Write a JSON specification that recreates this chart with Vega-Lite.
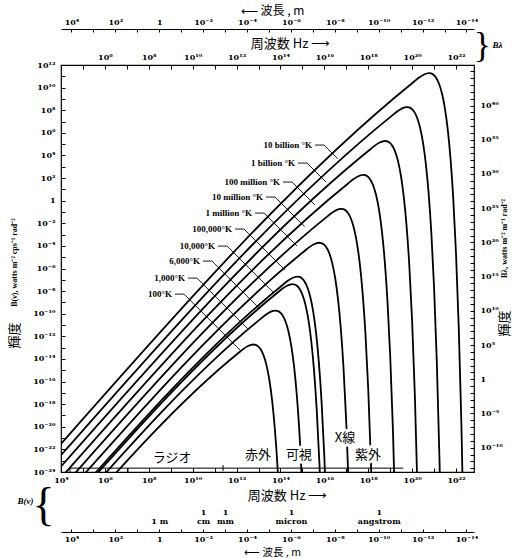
{
 "$schema": "https://vega.github.io/schema/vega-lite/v6.json",
 "width": 413, "height": 407,
 "autosize": {"type": "none"},
 "padding": {"left": 61, "top": 65, "right": 45, "bottom": 86},
 "background": "white",
 "config": {
  "view": {"stroke": "black", "strokeWidth": 1.2},
  "axis": {"grid": false, "domain": false, "labelFont": "DejaVu Serif", "labelFontSize": 8, "labelFontWeight": "bold", "labelColor": "black", "labelOverlap": false, "labelFlush": false, "labelBound": false, "tickColor": "black", "tickWidth": 1, "titleColor": "black", "titleFontWeight": "normal", "titleAlign": "center", "titleBaseline": "middle", "titlePadding": 0}
 },
 "datasets": {
  "curves": [
   {"T":"1e10","nu":1e4,"B":3.072e-22},{"T":"1e10","nu":1.25e20,"B":3.505e10},{"T":"1e10","nu":2.084e20,"B":7.764e10},{"T":"1e10","nu":3.334e20,"B":1.382e11},{"T":"1e10","nu":4.584e20,"B":1.77e11},{"T":"1e10","nu":5.876e20,"B":1.896e11},{"T":"1e10","nu":7.293e20,"B":1.781e11},{"T":"1e10","nu":9.377e20,"B":1.366e11},{"T":"1e10","nu":1.25e21,"B":7.16e10},{"T":"1e10","nu":1.667e21,"B":2.292e10},{"T":"1e10","nu":2.292e21,"B":2.966e9},{"T":"1e10","nu":3.126e21,"B":1.377e8},{"T":"1e10","nu":4.167e21,"B":2.2e6},{"T":"1e10","nu":5.626e21,"B":4935},{"T":"1e10","nu":7.501e21,"B":1.444},{"T":"1e10","nu":1e22,"B":2.103e-5},{"T":"1e10","nu":1.334e22,"B":5.609e-12},{"T":"1e10","nu":1.771e22,"B":9.955e-21},{"T":"1e10","nu":2.292e22,"B":2.999e-31},
   {"T":"1e9","nu":1e4,"B":3.072e-23},{"T":"1e9","nu":1.25e19,"B":3.505e7},{"T":"1e9","nu":2.084e19,"B":7.764e7},{"T":"1e9","nu":3.334e19,"B":1.382e8},{"T":"1e9","nu":4.584e19,"B":1.77e8},{"T":"1e9","nu":5.876e19,"B":1.896e8},{"T":"1e9","nu":7.293e19,"B":1.781e8},{"T":"1e9","nu":9.377e19,"B":1.366e8},{"T":"1e9","nu":1.25e20,"B":7.16e7},{"T":"1e9","nu":1.667e20,"B":2.292e7},{"T":"1e9","nu":2.292e20,"B":2.966e6},{"T":"1e9","nu":3.126e20,"B":1.377e5},{"T":"1e9","nu":4.167e20,"B":2200},{"T":"1e9","nu":5.626e20,"B":4.935},{"T":"1e9","nu":7.501e20,"B":1.444e-3},{"T":"1e9","nu":1e21,"B":2.103e-8},{"T":"1e9","nu":1.334e21,"B":5.609e-15},{"T":"1e9","nu":1.771e21,"B":9.955e-24},{"T":"1e9","nu":2.292e21,"B":2.999e-34},
   {"T":"1e8","nu":1e4,"B":3.072e-24},{"T":"1e8","nu":1.25e18,"B":3.505e4},{"T":"1e8","nu":2.084e18,"B":7.764e4},{"T":"1e8","nu":3.334e18,"B":1.382e5},{"T":"1e8","nu":4.584e18,"B":1.77e5},{"T":"1e8","nu":5.876e18,"B":1.896e5},{"T":"1e8","nu":7.293e18,"B":1.781e5},{"T":"1e8","nu":9.377e18,"B":1.366e5},{"T":"1e8","nu":1.25e19,"B":7.16e4},{"T":"1e8","nu":1.667e19,"B":2.292e4},{"T":"1e8","nu":2.292e19,"B":2966},{"T":"1e8","nu":3.126e19,"B":137.7},{"T":"1e8","nu":4.167e19,"B":2.2},{"T":"1e8","nu":5.626e19,"B":4.935e-3},{"T":"1e8","nu":7.501e19,"B":1.444e-6},{"T":"1e8","nu":1e20,"B":2.103e-11},{"T":"1e8","nu":1.334e20,"B":5.609e-18},{"T":"1e8","nu":1.771e20,"B":9.955e-27},
   {"T":"1e7","nu":1e4,"B":3.072e-25},{"T":"1e7","nu":1.25e17,"B":35.05},{"T":"1e7","nu":2.084e17,"B":77.64},{"T":"1e7","nu":3.334e17,"B":138.2},{"T":"1e7","nu":4.584e17,"B":177.0},{"T":"1e7","nu":5.876e17,"B":189.6},{"T":"1e7","nu":7.293e17,"B":178.1},{"T":"1e7","nu":9.377e17,"B":136.6},{"T":"1e7","nu":1.25e18,"B":71.6},{"T":"1e7","nu":1.667e18,"B":22.92},{"T":"1e7","nu":2.292e18,"B":2.966},{"T":"1e7","nu":3.126e18,"B":0.1377},{"T":"1e7","nu":4.167e18,"B":2.2e-3},{"T":"1e7","nu":5.626e18,"B":4.935e-6},{"T":"1e7","nu":7.501e18,"B":1.444e-9},{"T":"1e7","nu":1e19,"B":2.103e-14},{"T":"1e7","nu":1.334e19,"B":5.609e-21},{"T":"1e7","nu":1.771e19,"B":9.955e-30},
   {"T":"1e6","nu":1e4,"B":3.072e-26},{"T":"1e6","nu":1.25e16,"B":3.505e-2},{"T":"1e6","nu":2.084e16,"B":7.764e-2},{"T":"1e6","nu":3.334e16,"B":0.1382},{"T":"1e6","nu":4.584e16,"B":0.177},{"T":"1e6","nu":5.876e16,"B":0.1896},{"T":"1e6","nu":7.293e16,"B":0.1781},{"T":"1e6","nu":9.377e16,"B":0.1366},{"T":"1e6","nu":1.25e17,"B":7.16e-2},{"T":"1e6","nu":1.667e17,"B":2.292e-2},{"T":"1e6","nu":2.292e17,"B":2.966e-3},{"T":"1e6","nu":3.126e17,"B":1.377e-4},{"T":"1e6","nu":4.167e17,"B":2.2e-6},{"T":"1e6","nu":5.626e17,"B":4.935e-9},{"T":"1e6","nu":7.501e17,"B":1.444e-12},{"T":"1e6","nu":1e18,"B":2.103e-17},{"T":"1e6","nu":1.334e18,"B":5.609e-24},{"T":"1e6","nu":1.771e18,"B":9.955e-33},
   {"T":"1e5","nu":1e4,"B":3.072e-27},{"T":"1e5","nu":1.25e15,"B":3.505e-5},{"T":"1e5","nu":2.084e15,"B":7.764e-5},{"T":"1e5","nu":3.334e15,"B":1.382e-4},{"T":"1e5","nu":4.584e15,"B":1.77e-4},{"T":"1e5","nu":5.876e15,"B":1.896e-4},{"T":"1e5","nu":7.293e15,"B":1.781e-4},{"T":"1e5","nu":9.377e15,"B":1.366e-4},{"T":"1e5","nu":1.25e16,"B":7.16e-5},{"T":"1e5","nu":1.667e16,"B":2.292e-5},{"T":"1e5","nu":2.292e16,"B":2.966e-6},{"T":"1e5","nu":3.126e16,"B":1.377e-7},{"T":"1e5","nu":4.167e16,"B":2.2e-9},{"T":"1e5","nu":5.626e16,"B":4.935e-12},{"T":"1e5","nu":7.501e16,"B":1.444e-15},{"T":"1e5","nu":1e17,"B":2.103e-20},{"T":"1e5","nu":1.334e17,"B":5.609e-27},
   {"T":"1e4","nu":1e4,"B":3.072e-28},{"T":"1e4","nu":1.25e14,"B":3.505e-8},{"T":"1e4","nu":2.084e14,"B":7.764e-8},{"T":"1e4","nu":3.334e14,"B":1.382e-7},{"T":"1e4","nu":4.584e14,"B":1.77e-7},{"T":"1e4","nu":5.876e14,"B":1.896e-7},{"T":"1e4","nu":7.293e14,"B":1.781e-7},{"T":"1e4","nu":9.377e14,"B":1.366e-7},{"T":"1e4","nu":1.25e15,"B":7.16e-8},{"T":"1e4","nu":1.667e15,"B":2.292e-8},{"T":"1e4","nu":2.292e15,"B":2.966e-9},{"T":"1e4","nu":3.126e15,"B":1.377e-10},{"T":"1e4","nu":4.167e15,"B":2.2e-12},{"T":"1e4","nu":5.626e15,"B":4.935e-15},{"T":"1e4","nu":7.501e15,"B":1.444e-18},{"T":"1e4","nu":1e16,"B":2.103e-23},{"T":"1e4","nu":1.334e16,"B":5.609e-30},
   {"T":"6000","nu":1e4,"B":1.843e-28},{"T":"6000","nu":7.5e13,"B":7.571e-9},{"T":"6000","nu":1.2504e14,"B":1.677e-8},{"T":"6000","nu":2.0e14,"B":2.985e-8},{"T":"6000","nu":2.75e14,"B":3.823e-8},{"T":"6000","nu":3.526e14,"B":4.095e-8},{"T":"6000","nu":4.376e14,"B":3.847e-8},{"T":"6000","nu":5.626e14,"B":2.951e-8},{"T":"6000","nu":7.501e14,"B":1.547e-8},{"T":"6000","nu":1.0e15,"B":4.951e-9},{"T":"6000","nu":1.375e15,"B":6.407e-10},{"T":"6000","nu":1.876e15,"B":2.974e-11},{"T":"6000","nu":2.5e15,"B":4.752e-13},{"T":"6000","nu":3.376e15,"B":1.066e-15},{"T":"6000","nu":4.501e15,"B":3.119e-19},{"T":"6000","nu":6.001e15,"B":4.542e-24},{"T":"6000","nu":8.002e15,"B":1.212e-30},
   {"T":"1000","nu":1e4,"B":3.072e-29},{"T":"1000","nu":1.25e13,"B":3.505e-11},{"T":"1000","nu":2.084e13,"B":7.764e-11},{"T":"1000","nu":3.334e13,"B":1.382e-10},{"T":"1000","nu":4.584e13,"B":1.77e-10},{"T":"1000","nu":5.876e13,"B":1.896e-10},{"T":"1000","nu":7.293e13,"B":1.781e-10},{"T":"1000","nu":9.377e13,"B":1.366e-10},{"T":"1000","nu":1.25e14,"B":7.16e-11},{"T":"1000","nu":1.667e14,"B":2.292e-11},{"T":"1000","nu":2.292e14,"B":2.966e-12},{"T":"1000","nu":3.126e14,"B":1.377e-13},{"T":"1000","nu":4.167e14,"B":2.2e-15},{"T":"1000","nu":5.626e14,"B":4.935e-18},{"T":"1000","nu":7.501e14,"B":1.444e-21},{"T":"1000","nu":1e15,"B":2.103e-26},
   {"T":"100","nu":1e4,"B":3.072e-30},{"T":"100","nu":1.25e12,"B":3.505e-14},{"T":"100","nu":2.084e12,"B":7.764e-14},{"T":"100","nu":3.334e12,"B":1.382e-13},{"T":"100","nu":4.584e12,"B":1.77e-13},{"T":"100","nu":5.876e12,"B":1.896e-13},{"T":"100","nu":7.293e12,"B":1.781e-13},{"T":"100","nu":9.377e12,"B":1.366e-13},{"T":"100","nu":1.25e13,"B":7.16e-14},{"T":"100","nu":1.667e13,"B":2.292e-14},{"T":"100","nu":2.292e13,"B":2.966e-15},{"T":"100","nu":3.126e13,"B":1.377e-16},{"T":"100","nu":4.167e13,"B":2.2e-18},{"T":"100","nu":5.626e13,"B":4.935e-21},{"T":"100","nu":7.501e13,"B":1.444e-24},{"T":"100","nu":1e14,"B":2.103e-29}
  ],
  "leaders": [
   {"T":"1e10","nu":3.776e15,"B":8.318e4},{"T":"1e10","nu":9.705e15,"B":8.318e4},{"T":"1e10","nu":4.093e16,"B":5105},
   {"T":"1e9","nu":6.339e14,"B":2123},{"T":"1e9","nu":1.629e15,"B":2123},{"T":"1e9","nu":1.197e16,"B":44.26},
   {"T":"1e8","nu":1.312e14,"B":44.26},{"T":"1e8","nu":3.373e14,"B":44.26},{"T":"1e8","nu":3.698e15,"B":0.4246},
   {"T":"1e7","nu":2.208e13,"B":2.084},{"T":"1e7","nu":5.675e13,"B":2.084},{"T":"1e7","nu":1.268e15,"B":5.0e-3},
   {"T":"1e6","nu":6.95e12,"B":7.998e-2},{"T":"1e6","nu":1.786e13,"B":7.998e-2},{"T":"1e6","nu":5.649e14,"B":9.795e-5},
   {"T":"1e5","nu":8.531e11,"B":3.069e-3},{"T":"1e5","nu":2.193e12,"B":3.069e-3},{"T":"1e5","nu":1.57e14,"B":7.674e-7},
   {"T":"1e4","nu":1.432e11,"B":9.594e-5},{"T":"1e4","nu":3.681e11,"B":9.594e-5},{"T":"1e4","nu":4.898e13,"B":7.211e-9},
   {"T":"6000","nu":2.965e10,"B":4.519e-6},{"T":"6000","nu":7.621e10,"B":4.519e-6},{"T":"6000","nu":1.175e13,"B":2.553e-10},
   {"T":"1000","nu":6.138e9,"B":1.413e-7},{"T":"1000","nu":1.581e10,"B":1.413e-7},{"T":"1000","nu":3.556e12,"B":3.837e-12},
   {"T":"100","nu":1.57e9,"B":5.433e-9},{"T":"100","nu":4.036e9,"B":5.433e-9},{"T":"100","nu":1.426e12,"B":6.138e-14}
  ],
  "tlabels": [
   {"label":"10 billion °K","nu":3.776e15,"B":8.318e4},
   {"label":"1 billion °K","nu":6.339e14,"B":2123},
   {"label":"100 million °K","nu":1.312e14,"B":44.26},
   {"label":"10 million °K","nu":2.208e13,"B":2.084},
   {"label":"1 million °K","nu":6.95e12,"B":7.998e-2},
   {"label":"100,000°K","nu":8.531e11,"B":3.069e-3},
   {"label":"10,000°K","nu":1.432e11,"B":9.594e-5},
   {"label":"6,000°K","nu":2.965e10,"B":4.519e-6},
   {"label":"1,000°K","nu":6.138e9,"B":1.413e-7},
   {"label":"100°K","nu":1.57e9,"B":5.433e-9}
  ],
  "regions": [
   {"name":"ラジオ","nu":1.146e9,"B":1.66e-23},
   {"name":"赤外","nu":9.53e12,"B":3.09e-23},
   {"name":"可視","nu":7.05e14,"B":3.09e-23},
   {"name":"X線","nu":8.79e16,"B":9.8e-22},
   {"name":"紫外","nu":9.84e17,"B":3.09e-23}
  ],
  "bar": [
   {"nu":2.57e4,"nu2":3.9e19,"B":2.2e-24,"B2":2.2e-24},
   {"nu":2.57e4,"nu2":2.57e4,"B":2.2e-24,"B2":1e-24},
   {"nu":1.13e7,"nu2":1.13e7,"B":2.2e-24,"B2":1e-24},
   {"nu":2.42e11,"nu2":2.42e11,"B":4.1e-24,"B2":1.2e-24}
  ]
 },
 "resolve": {"axis": {"x": "independent", "y": "independent"}},
 "layer": [
  {
   "data": {"name": "curves"},
   "mark": {"type": "line", "interpolate": "monotone", "clip": true, "stroke": "black", "strokeWidth": 1.8},
   "encoding": {
    "x": {"field": "nu", "type": "quantitative", "scale": {"type": "log", "domain": [1e4, 6.6e22], "nice": false},
     "axis": {"orient": "bottom", "values": [1e4,1e5,1e6,1e7,1e8,1e9,1e10,1e11,1e12,1e13,1e14,1e15,1e16,1e17,1e18,1e19,1e20,1e21,1e22],
      "labelExpr": "['10⁴','','10⁶','','10⁸','','10¹⁰','','10¹²','','10¹⁴','','10¹⁶','','10¹⁸','','10²⁰','','10²²'][round(log(datum.value)/LN10)-4]",
      "tickSize": -4, "labelPadding": 8, "title": "周波数 Hz ⟶", "titleFont": "Noto Sans CJK JP", "titleFontSize": 13, "titleX": 226, "titleY": 23}},
    "y": {"field": "B", "type": "quantitative", "scale": {"type": "log", "domain": [1e-24, 1e12], "nice": false},
     "axis": {"orient": "left", "values": [1e-24,1e-23,1e-22,1e-21,1e-20,1e-19,1e-18,1e-17,1e-16,1e-15,1e-14,1e-13,1e-12,1e-11,1e-10,1e-9,1e-8,1e-7,1e-6,1e-5,1e-4,1e-3,1e-2,1e-1,1,10,100,1e3,1e4,1e5,1e6,1e7,1e8,1e9,1e10,1e11,1e12],
      "labelExpr": "['10⁻²⁴','','10⁻²²','','10⁻²⁰','','10⁻¹⁸','','10⁻¹⁶','','10⁻¹⁴','','10⁻¹²','','10⁻¹⁰','','10⁻⁸','','10⁻⁶','','10⁻⁴','','10⁻²','','1','','10²','','10⁴','','10⁶','','10⁸','','10¹⁰','','10¹²'][round(log(datum.value)/LN10)+24]",
      "tickSize": -4, "labelPadding": 10, "title": "B(ν), watts m⁻² cps⁻¹ rad⁻²", "titleFont": "Liberation Serif", "titleFontSize": 8, "titleFontWeight": "bold", "titleAngle": 270, "titleX": -47, "titleY": 197}},
    "detail": {"field": "T"}
   }
  },
  {
   "data": {"name": "leaders"},
   "mark": {"type": "line", "stroke": "black", "strokeWidth": 0.9},
   "encoding": {
    "x": {"field": "nu", "type": "quantitative", "scale": {"type": "log", "domain": [1e4, 6.6e22], "nice": false},
     "axis": {"orient": "top", "values": [1e4,1e5,1e6,1e7,1e8,1e9,1e10,1e11,1e12,1e13,1e14,1e15,1e16,1e17,1e18,1e19,1e20,1e21,1e22],
      "labelExpr": "['','','10⁶','','10⁸','','10¹⁰','','10¹²','','10¹⁴','','10¹⁶','','10¹⁸','','10²⁰','','10²²'][round(log(datum.value)/LN10)-4]",
      "tickSize": -4, "labelPadding": 8, "title": "周波数 Hz ⟶", "titleFont": "Noto Sans CJK JP", "titleFontSize": 13, "titleX": 229, "titleY": -22}},
    "y": {"field": "B", "type": "quantitative", "scale": {"type": "log", "domain": [1e-24, 1e12], "nice": false},
     "axis": {"orient": "right", "values": [2.163e-24,8.710e-24,3.516e-23,1.416e-22,5.702e-22,2.301e-21,9.268e-21,3.733e-20,1.503e-19,6.067e-19,2.443e-18,9.840e-18,3.972e-17,1.600e-16,6.442e-16,2.600e-15,1.047e-14,4.217e-14,1.702e-13,6.855e-13,2.761e-12,1.112e-11,4.487e-11,1.807e-10,7.278e-10,2.938e-9,1.183e-8,4.764e-8,1.923e-7,7.745e-7,3.119e-6,1.259e-5,5.070e-5,2.042e-4,8.222e-4,3.319e-3,1.337e-2,5.383e-2,2.173e-1,8.750e-1,3.524,14.22,57.28,230.7,931.1,3750,1.510e4,6.095e4,2.455e5,9.886e5,3.981e6,1.607e7,6.471e7,2.606e8,1.052e9,4.236e9,1.706e10,6.887e10,2.773e11],
      "labelExpr": "(round((log(datum.value)/LN10+15.796)/0.60531) % 5 == 0 && round((log(datum.value)/LN10+15.796)/0.60531) <= 40) ? ['10⁻¹⁰','10⁻⁵','1','10⁵','10¹⁰','10¹⁵','10²⁰','10²⁵','10³⁰','10³⁵','10⁴⁰'][(round((log(datum.value)/LN10+15.796)/0.60531)+10)/5] : ''",
      "tickSize": -4, "labelPadding": 10, "title": "Bλ, watts m⁻² m⁻¹ rad⁻²", "titleFont": "Liberation Serif", "titleFontSize": 8, "titleFontWeight": "bold", "titleAngle": 270, "titleX": 30, "titleY": 173}},
    "detail": {"field": "T"}
   }
  },
  {
   "data": {"name": "tlabels"},
   "mark": {"type": "text", "align": "right", "baseline": "middle", "dx": -3, "font": "Liberation Serif", "fontSize": 9, "fontWeight": "bold", "color": "black"},
   "encoding": {
    "x": {"field": "nu", "type": "quantitative", "scale": {"type": "log", "domain": [1e4, 6.6e22], "nice": false},
     "axis": {"orient": "top", "offset": 36, "domain": true, "domainColor": "black", "domainWidth": 1,
      "values": [2.998e4,2.998e5,2.998e6,2.998e7,2.998e8,2.998e9,2.998e10,2.998e11,2.998e12,2.998e13,2.998e14,2.998e15,2.998e16,2.998e17,2.998e18,2.998e19,2.998e20,2.998e21,2.998e22],
      "labelExpr": "['10⁴','','10²','','1','','10⁻²','','10⁻⁴','','10⁻⁶','','10⁻⁸','','10⁻¹⁰','','10⁻¹²','','10⁻¹⁴'][round(log(datum.value)/LN10-0.4768)-4]",
      "tickSize": -3, "labelPadding": 6, "title": "⟵  波長 , m", "titleFont": "Noto Sans CJK JP", "titleFontSize": 12, "titleX": 211, "titleY": -19}},
    "y": {"field": "B", "type": "quantitative", "scale": {"type": "log", "domain": [1e-24, 1e12], "nice": false},
     "axis": {"orient": "left", "labels": false, "ticks": false, "title": "輝度", "titleFont": "Noto Sans CJK JP", "titleFontSize": 13, "titleAngle": 270, "titleX": -47, "titleY": 270}},
    "text": {"field": "label"}
   }
  },
  {
   "data": {"name": "regions"},
   "mark": {"type": "text", "align": "center", "baseline": "middle", "font": "Noto Sans CJK JP", "fontSize": 13, "fill": "white", "stroke": "white", "strokeWidth": 5},
   "encoding": {
    "x": {"field": "nu", "type": "quantitative", "scale": {"type": "log", "domain": [1e4, 6.6e22], "nice": false},
     "axis": {"orient": "bottom", "offset": 60, "domain": true, "domainColor": "black", "domainWidth": 1,
      "values": [2.998e4,2.998e5,2.998e6,2.998e7,2.998e8,2.998e9,2.998e10,2.998e11,2.998e12,2.998e13,2.998e14,2.998e15,2.998e16,2.998e17,2.998e18,2.998e19,2.998e20,2.998e21,2.998e22],
      "labelExpr": "['10⁴','','10²','','1','','10⁻²','','10⁻⁴','','10⁻⁶','','10⁻⁸','','10⁻¹⁰','','10⁻¹²','','10⁻¹⁴'][round(log(datum.value)/LN10-0.4768)-4]",
      "tickSize": -3, "labelPadding": 6, "title": "⟵  波長 , m", "titleFont": "Noto Sans CJK JP", "titleFontSize": 10.5, "titleX": 211, "titleY": 20}},
    "y": {"field": "B", "type": "quantitative", "scale": {"type": "log", "domain": [1e-24, 1e12], "nice": false},
     "axis": {"orient": "right", "labels": false, "ticks": false, "title": "輝度", "titleFont": "Noto Sans CJK JP", "titleFontSize": 13, "titleAngle": 270, "titleX": 30, "titleY": 258}},
    "text": {"field": "name"}
   }
  },
  {
   "data": {"name": "regions"},
   "mark": {"type": "text", "align": "center", "baseline": "middle", "font": "Noto Sans CJK JP", "fontSize": 13, "fill": "black"},
   "encoding": {
    "x": {"field": "nu", "type": "quantitative", "scale": {"type": "log", "domain": [1e4, 6.6e22], "nice": false},
     "axis": {"orient": "bottom", "offset": 35, "ticks": false, "values": [2.998e8,2.998e10,2.998e11,2.998e14,2.998e18],
      "labelExpr": "['','','1','1','','','1','','','','1'][round(log(datum.value)/LN10-0.4768)-8]",
      "labelPadding": 1, "title": "{", "titleFont": "Liberation Serif", "titleFontSize": 46, "titleX": -18, "titleY": -2}},
    "y": {"field": "B", "type": "quantitative", "scale": {"type": "log", "domain": [1e-24, 1e12], "nice": false},
     "axis": {"orient": "right", "labels": false, "ticks": false, "title": "}", "titleFont": "Liberation Serif", "titleFontSize": 36, "titleAngle": 0, "titleX": 8, "titleY": -20}},
    "text": {"field": "name"}
   }
  },
  {
   "data": {"name": "bar"},
   "mark": {"type": "rule", "stroke": "black", "strokeWidth": 1},
   "encoding": {
    "x": {"field": "nu", "type": "quantitative", "scale": {"type": "log", "domain": [1e4, 6.6e22], "nice": false},
     "axis": {"orient": "bottom", "offset": 44, "ticks": false, "values": [2.998e8,2.998e10,2.998e11,2.998e14,2.998e18],
      "labelExpr": "['1 m','','cm','mm','','','micron','','','','angstrom'][round(log(datum.value)/LN10-0.4768)-8]",
      "labelPadding": 1, "title": "B(ν)", "titleFont": "Liberation Serif", "titleFontSize": 9, "titleFontWeight": "bold", "titleFontStyle": "italic", "titleX": -36, "titleY": -16}},
    "x2": {"field": "nu2"},
    "y": {"field": "B", "type": "quantitative", "scale": {"type": "log", "domain": [1e-24, 1e12], "nice": false},
     "axis": {"orient": "right", "labels": false, "ticks": false, "title": "Bλ", "titleFont": "Liberation Serif", "titleFontSize": 9, "titleFontWeight": "bold", "titleFontStyle": "italic", "titleAngle": 0, "titleX": 23, "titleY": -21}},
    "y2": {"field": "B2"}
   }
  }
 ]
}
